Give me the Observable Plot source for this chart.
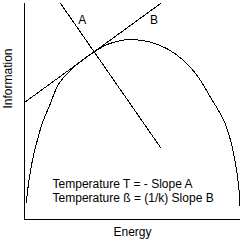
<!DOCTYPE html>
<html>
<head>
<meta charset="utf-8">
<script src="https://cdn.jsdelivr.net/npm/d3@7"></script>
<script src="https://cdn.jsdelivr.net/npm/@observablehq/plot@0.6"></script>
<style>
  html, body { margin: 0; padding: 0; background: #fff; }
  #chart svg { display: block; }
</style>
</head>
<body>
<div id="chart"></div>
<script>
// Arch (information vs energy)
const curveEnergy = [0.8, 2.0, 3.6, 5.9, 8.2, 11.3, 15.9, 22.8, 32.1, 39.0, 46.8, 50.6, 58.3, 66.1, 73.7, 79.9, 86.1, 92.3, 95.4, 97.7, 99.2, 99.7];
const curveInfo   = [7.9, 17.5, 27.0, 36.5, 44.5, 52.0, 62.8, 70.5, 77.5, 81.3, 83.2, 83.3, 82.1, 79.0, 73.6, 66.7, 56.6, 45.8, 36.6, 25.8, 15.0, 6.5];

// Straight lines A and B (end points)
const lineNames  = ["A", "A", "B", "B"];
const lineEnergy = [16.7, 63.0, 0.0, 63.0];
const lineInfo   = [100, 33.3, 54.2, 100];

// Line labels
const labelText   = ["A", "B"];
const labelEnergy = [26.7, 60.0];
const labelInfo   = [92.2, 92.2];

// Annotation text (two lines)
const noteLines  = ["Temperature T = - Slope A", "Temperature ß = (1/k) Slope B"];
const noteEnergy = 13.0;
const noteInfo   = 13.5;

const xTitle = "Energy";
const yTitle = "Information";

const curveData = curveEnergy.map((e, i) => ({e, v: curveInfo[i]}));
const lineData = lineNames.map((n, i) => ({n, e: lineEnergy[i], v: lineInfo[i]}));
const labelData = labelText.map((t, i) => ({t, e: labelEnergy[i], v: labelInfo[i]}));
const noteData = [{t: noteLines.join("\n"), e: noteEnergy, v: noteInfo}];

const font = "Arial, 'Liberation Sans', sans-serif";

const chart = Plot.plot({
  width: 243,
  height: 246,
  marginLeft: 24,
  marginRight: 3,
  marginTop: 3,
  marginBottom: 27,
  x: {domain: [0, 100], axis: null},
  y: {domain: [0, 100], axis: null},
  style: {background: "#fff", fontFamily: font, fontSize: "12px", color: "#000"},
  marks: [
    Plot.ruleX([0], {stroke: "#000", strokeWidth: 1, shapeRendering: "crispEdges"}),
    Plot.ruleY([0], {stroke: "#000", strokeWidth: 1, shapeRendering: "crispEdges"}),
    Plot.line(curveData, {x: "e", y: "v", curve: "catmull-rom", stroke: "#000", strokeWidth: 1, shapeRendering: "crispEdges"}),
    Plot.line(lineData, {x: "e", y: "v", z: "n", stroke: "#000", strokeWidth: 1, shapeRendering: "crispEdges"}),
    Plot.text(labelData, {x: "e", y: "v", text: "t", fill: "#000", fontSize: 12, fontFamily: font}),
    Plot.text(noteData, {x: "e", y: "v", text: "t", textAnchor: "start", lineHeight: 1.15, fill: "#000", fontSize: 12, fontFamily: font}),
    Plot.text([xTitle], {frameAnchor: "bottom", text: d => d, dy: 16, fill: "#000", fontSize: 12, fontFamily: font}),
    Plot.text([yTitle], {frameAnchor: "left", text: d => d, dx: -16, dy: -3, rotate: -90, fill: "#000", fontSize: 12, fontFamily: font})
  ]
});
document.getElementById("chart").appendChild(chart);
</script>
</body>
</html>
